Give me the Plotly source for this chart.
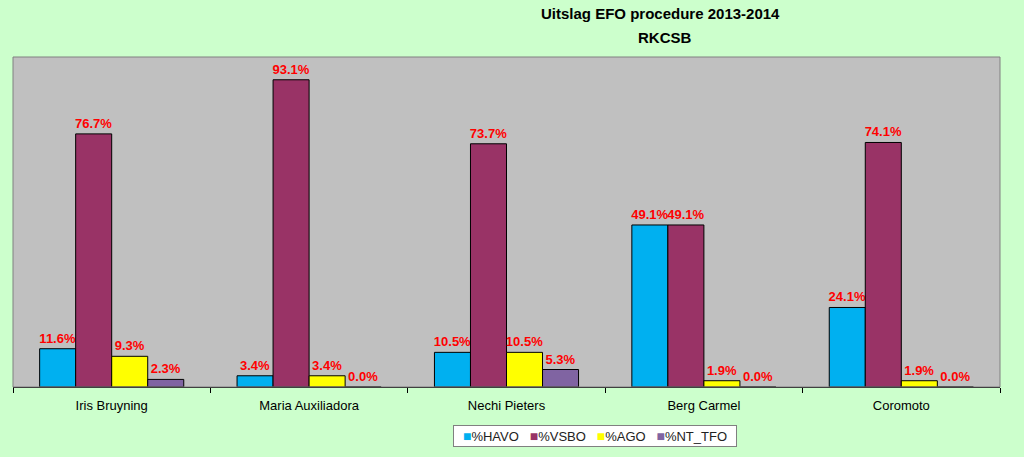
import plotly.graph_objects as go

schools = ['Iris Bruyning', 'Maria Auxiliadora', 'Nechi Pieters', 'Berg Carmel', 'Coromoto']
havo = [11.6, 3.4, 10.5, 49.1, 24.1]
vsbo = [76.7, 93.1, 73.7, 49.1, 74.1]
ago = [9.3, 3.4, 10.5, 1.9, 1.9]
nt_tfo = [2.3, 0.0, 5.3, 0.0, 0.0]

series = [('%HAVO', havo, '#00B0F0'),
          ('%VSBO', vsbo, '#993366'),
          ('%AGO', ago, '#FFFF00'),
          ('%NT_TFO', nt_tfo, '#8064A2')]

fig = go.Figure()
for name, vals, col in series:
    fig.add_trace(go.Bar(
        x=schools, y=vals, name=name,
        marker=dict(color=col, line=dict(color='#000000', width=1)),
        text=[f'{v:.1f}%' for v in vals],
        textposition='outside',
        constraintext='none',
        textfont=dict(color='#FF0000', size=13, family='Arial'),
        texttemplate='<b>%{text}</b>',
        cliponaxis=False,
    ))

# legend drawn as a text box, like the small Excel legend
legend_txt = '&nbsp;&nbsp;&nbsp;'.join(
    f'<span style="color:{col};font-size:14px">■</span>{name}' for name, _, col in series)

fig.update_layout(
    width=1024, height=457,
    barmode='group', bargap=0.27, bargroupgap=0,
    paper_bgcolor='#CCFFCC', plot_bgcolor='#C0C0C0',
    margin=dict(l=13, r=24, t=57, b=70, autoexpand=False),
    font=dict(family='Arial', size=12, color='#000000'),
    showlegend=False,
    shapes=[dict(type='rect', xref='paper', yref='paper', x0=0, x1=1, y0=0, y1=1,
                 line=dict(color='#808080', width=1), layer='above')],
)
fig.add_annotation(text='<b>Uitslag EFO procedure 2013-2014</b>',
                   x=672/1024, y=(387-14)/330, xref='paper', yref='paper', yanchor='middle',
                   showarrow=False, font=dict(size=15))
fig.add_annotation(text='<b>RKCSB</b>',
                   x=676/1024, y=(387-37)/330, xref='paper', yref='paper', yanchor='middle',
                   showarrow=False, font=dict(size=15))
fig.add_annotation(text=legend_txt, x=604/1024, y=(387-436)/330, xref='paper', yref='paper',
                   yanchor='middle', showarrow=False, font=dict(size=13, color='#222222'),
                   bgcolor='#FFFFFF', bordercolor='#808080', borderwidth=1, borderpad=2, width=278)
fig.update_xaxes(showline=True, linecolor='#000000', linewidth=1, ticks='outside',
                 tickson='boundaries', ticklen=5, tickcolor='#000000',
                 ticklabelstandoff=6, tickfont=dict(size=13))
fig.update_yaxes(range=[0, 100], showgrid=False, showticklabels=False, zeroline=False)

fig.write_html('out.html', config={'displayModeBar': False},
               post_script="document.body.style.margin='0';")
